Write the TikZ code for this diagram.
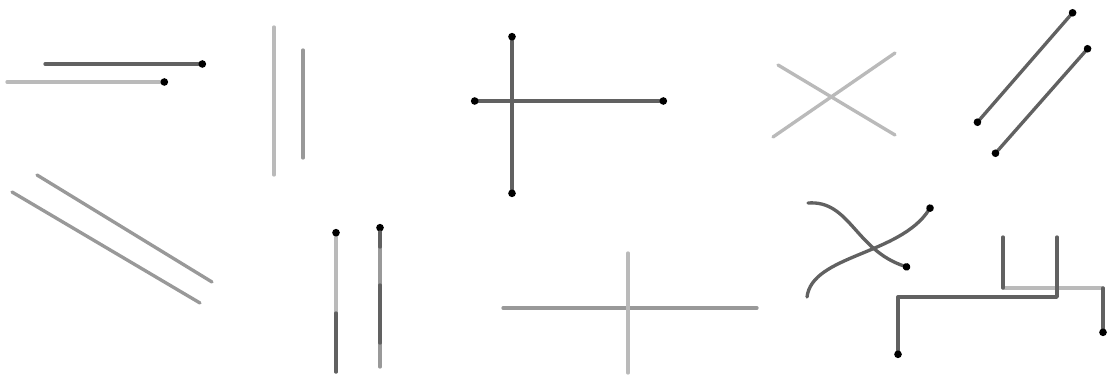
\documentclass[tikz,border=0pt]{standalone}
\usetikzlibrary{arrows.meta}
\begin{document}
\begin{tikzpicture}[
  x=0.02cm, y=-0.02cm,
  line cap=round, line join=round,
  dk/.style={line width=1.9pt, draw=black!62},
  md/.style={line width=1.9pt, draw=black!40},
  lt/.style={line width=1.9pt, draw=black!27},
  tip/.style={-{Circle[length=4.2pt, color=black]}},
  tips/.style={{Circle[length=4.2pt, color=black]}-{Circle[length=4.2pt, color=black]}}
]
  \useasboundingbox (0,0) rectangle (1108,378);

  % two horizontal arrows, top left
  \draw[dk, tip] (45,64) -- (206,64);
  \draw[lt, tip] (7,82) -- (168,82);

  % vertical pair
  \draw[lt] (274,27) -- (274,175);
  \draw[md] (303,50) -- (303,158);

  % cross with four dots
  \draw[dk, tips] (512,33) -- (512,197);
  \draw[dk, tips] (471,101) -- (667,101);

  % light x
  \draw[lt] (778,65) -- (895,135);
  \draw[lt] (773,137) -- (895,53);

  % diagonal pair
  \draw[dk, tips] (975,125) -- (1075,10);
  \draw[dk, tips] (993,156) -- (1090,46);

  % diagonal pair, bottom left
  \draw[md] (37,175) -- (212,282);
  \draw[md] (12,192) -- (200,303);

  % two upward arrows
  \draw[lt, tip] (336,372) -- (336,229);
  \draw[dk] (336,372) -- (336,313);
  \draw[md, tip] (380,367) -- (380,224);
  \draw[dk] (380,343) -- (380,285);
  \draw[dk] (380,247) -- (380,232);

  % gray cross
  \draw[md] (503,308) -- (757,308);
  \draw[lt] (628,253) -- (628,373);

  % crossing curves
  \draw[dk, tip] (808,203) .. controls (850,200) and (855,250) .. (910,268);
  \draw[dk, tip] (807,297) .. controls (812,255) and (900,255) .. (932,205);

  % step lines
  \draw[lt] (1003,288) -- (1103,288);
  \draw[dk] (1003,237) -- (1003,288);
  \draw[dk, tip] (1103,288) -- (1103,336);
  \draw[dk, tip] (1057,237) -- (1057,297) -- (898,297) -- (898,358);
\end{tikzpicture}
\end{document}
